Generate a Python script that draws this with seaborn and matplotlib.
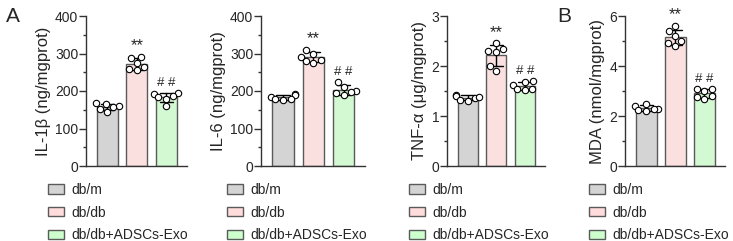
import numpy as np
import pandas as pd
import matplotlib
matplotlib.use("Agg")
import matplotlib.pyplot as plt
import seaborn as sns
from matplotlib.patches import Patch
from matplotlib.ticker import MultipleLocator

sns.set_style("ticks")
plt.rcParams['font.family'] = ['Liberation Sans', 'DejaVu Sans']

groups = ["db/m", "db/db", "db/db+ADSCs-Exo"]
colors = ["#d4d4d4", "#ffdcdc", "#ccffcc"]

il1b_dbm = [152, 160, 168, 145, 158, 165]
il1b_dbdb = [292, 288, 275, 255, 258, 264]
il1b_exo = [195, 192, 188, 180, 160, 183]

il6_dbm = [192, 190, 185, 175, 178, 180]
il6_dbdb = [310, 300, 290, 282, 280, 275]
il6_exo = [225, 212, 200, 198, 195, 190]

tnf_dbm = [1.43, 1.40, 1.37, 1.33, 1.31, 1.38]
tnf_dbdb = [2.45, 2.35, 2.30, 2.28, 2.00, 1.90]
tnf_exo = [1.70, 1.68, 1.62, 1.55, 1.52, 1.55]

mda_dbm = [2.50, 2.40, 2.30, 2.25, 2.20, 2.28]
mda_dbdb = [5.60, 5.40, 5.20, 5.00, 4.90, 4.80]
mda_exo = [3.10, 3.08, 3.00, 2.80, 2.70, 2.75]

panels = [
    ("IL-1β (ng/mgprot)", [il1b_dbm, il1b_dbdb, il1b_exo], 400, 100, 50),
    ("IL-6 (ng/mgprot)", [il6_dbm, il6_dbdb, il6_exo], 400, 100, 50),
    ("TNF-α (μg/mgprot)", [tnf_dbm, tnf_dbdb, tnf_exo], 3, 1, 0.5),
    ("MDA (nmol/mgprot)", [mda_dbm, mda_dbdb, mda_exo], 6, 2, 1),
]
sig_marks = ["", "**", "# #"]

W, H = 733, 241
fig = plt.figure(figsize=(W / 100, H / 100), dpi=100)

axis_left = [86, 261, 447, 625]
axis_right = [187, 365, 545, 725]
legend_x = [48, 227, 409, 589]
y_top, y_bot = 16, 166

edge = "#5a5a5a"
for i, (ylabel, series, ymax, major, minor) in enumerate(panels):
    ax = fig.add_axes([axis_left[i] / W, (H - y_bot) / H,
                       (axis_right[i] - axis_left[i]) / W, (y_bot - y_top) / H])
    df = pd.DataFrame({
        "group": np.repeat(groups, [len(s) for s in series]),
        "value": np.concatenate(series),
    })
    sns.barplot(data=df, x="group", y="value", hue="group", order=groups,
                hue_order=groups, palette=colors, errorbar="sd", capsize=0.45,
                width=0.71, edgecolor=edge, linewidth=1.0, legend=False,
                err_kws={"color": "black", "linewidth": 1.0}, ax=ax)
    sns.swarmplot(data=df, x="group", y="value", order=groups, color="white",
                  edgecolor="black", linewidth=0.8, size=4.6, ax=ax, zorder=5)
    ax.set_xlim(-0.73, 2.71)
    ax.set_ylim(0, ymax)
    ax.yaxis.set_major_locator(MultipleLocator(major))
    ax.yaxis.set_minor_locator(MultipleLocator(minor))
    ax.set_xticks([])
    ax.set_xlabel("")
    ax.set_ylabel(ylabel, fontsize=12, labelpad=3)
    ax.tick_params(axis="y", labelsize=10, length=5, width=1, pad=0.5,
                   color="#333333")
    ax.tick_params(axis="y", which="minor", length=2.5, width=1,
                   color="#333333")
    for s in ["left", "bottom"]:
        ax.spines[s].set_linewidth(1.0)
        ax.spines[s].set_color("#333333")
    sns.despine(ax=ax)
    for j, s in enumerate(series):
        if sig_marks[j]:
            fs = 12 if sig_marks[j] == "**" else 9.5
            ax.text(j, max(s) + ymax * 0.025, sig_marks[j], ha="center",
                    va="bottom", fontsize=fs)
    handles = [Patch(facecolor=c, edgecolor=edge, linewidth=1.0) for c in colors]
    fig.legend(handles, groups, loc="upper left",
               bbox_to_anchor=(legend_x[i] / W, (H - 183) / H),
               frameon=False, fontsize=10, handlelength=1.15, handleheight=0.65,
               handletextpad=0.55, labelspacing=0.62, borderpad=0,
               borderaxespad=0)

fig.text(6 / W, (H - 22) / H, "A", fontsize=15)
fig.text(557 / W, (H - 22) / H, "B", fontsize=15)

fig.savefig("out.png", dpi=100)
